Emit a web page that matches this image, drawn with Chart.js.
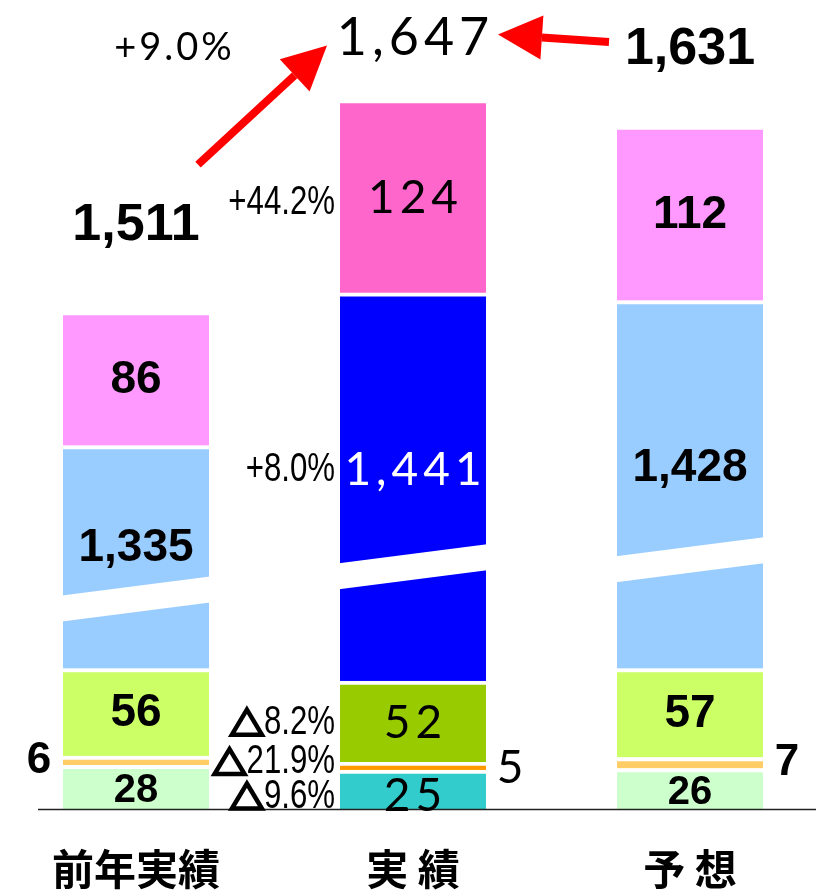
<!DOCTYPE html>
<html>
<head>
<meta charset="utf-8">
<script src="https://cdn.jsdelivr.net/npm/chart.js@4"></script>
<style>
  html, body { margin: 0; padding: 0; background: #fff; }
  #wrap { width: 816px; height: 893px; }
</style>
</head>
<body>
<div id="wrap"><canvas id="sales-chart"></canvas></div>
<script>
// Data (segments listed bottom to top)
const categories = ['前年実績', '実 績', '予 想'];
const bottomValues = [28, 25, 26];
const smallValues = [6, 5, 7];
const middleValues = [56, 52, 57];
const mainValues = [1335, 1441, 1428];
const topValues = [86, 124, 112];
const totals = [1511, 1647, 1631];
const changeLabels = ['△9.6%', '△21.9%', '△8.2%', '+8.0%', '+44.2%'];
const totalChange = '+9.0%';
const axisBreak = 1192; // the big segment is drawn from this cut upward

const segmentValues = [bottomValues, smallValues, middleValues, mainValues, topValues];
const fmt = v => v.toLocaleString('en-US');

const boldFont = size => `bold ${size}px 'Liberation Sans', Arial, sans-serif`;
const thinFont = size => `${size}px Lato, sans-serif`;

function drawText(ctx, text, x, y, font, color, align, spacing, squeeze) {
  ctx.save();
  ctx.font = font;
  ctx.fillStyle = color || '#000';
  ctx.textAlign = align || 'center';
  ctx.textBaseline = 'middle';
  if (spacing) {
    ctx.letterSpacing = spacing + 'px';
    if ((align || 'center') === 'center') x += spacing / 2;
  }
  if (squeeze) {
    ctx.translate(x, y);
    ctx.scale(squeeze, 1);
    ctx.fillText(text, 0, 0);
  } else {
    ctx.fillText(text, x, y);
  }
  ctx.restore();
}

// percent label, with an outlined triangle for negative changes
function drawChange(ctx, text, right, y) {
  const narrow = 0.78;
  const font = "40px 'Liberation Sans', Arial, sans-serif";
  ctx.save();
  ctx.font = font;
  let body = text, neg = false;
  if (text.startsWith('△')) { neg = true; body = text.slice(1); }
  const w = ctx.measureText(body).width * narrow;
  drawText(ctx, body, right, y, font, '#000', 'right', 0, narrow);
  if (neg) {
    const tx = right - w - 17, s = 15;
    ctx.strokeStyle = '#000';
    ctx.lineWidth = 4.5;
    ctx.lineJoin = 'miter';
    ctx.beginPath();
    ctx.moveTo(tx, y - s + 2);
    ctx.lineTo(tx + s, y + s - 3);
    ctx.lineTo(tx - s, y + s - 3);
    ctx.closePath();
    ctx.stroke();
  }
  ctx.restore();
}

function drawArrow(ctx, x0, y0, x1, y1) {
  const ang = Math.atan2(y1 - y0, x1 - x0);
  const headLen = 44, headHalf = 22;
  const bx = x1 - headLen * Math.cos(ang), by = y1 - headLen * Math.sin(ang);
  ctx.save();
  ctx.strokeStyle = '#FF0000';
  ctx.fillStyle = '#FF0000';
  ctx.lineWidth = 8;
  ctx.beginPath();
  ctx.moveTo(x0, y0);
  ctx.lineTo(bx, by);
  ctx.stroke();
  ctx.beginPath();
  ctx.moveTo(x1, y1);
  ctx.lineTo(bx + headHalf * Math.sin(ang), by - headHalf * Math.cos(ang));
  ctx.lineTo(bx - headHalf * Math.sin(ang), by + headHalf * Math.cos(ang));
  ctx.closePath();
  ctx.fill();
  ctx.restore();
}

const overlayPlugin = {
  id: 'overlay',
  afterDatasetsDraw(chart) {
    const ctx = chart.ctx;
    const area = chart.chartArea;
    const xScale = chart.scales.x;
    const metas = segmentValues.map((_, i) => chart.getDatasetMeta(i));

    // slanted white break across the big segment
    metas[3].data.forEach(el => {
      const { x, y, base, width } = el.getProps(['x', 'y', 'base', 'width'], true);
      const left = x - width / 2 - 1, right = x + width / 2 + 1;
      const mid = base - 0.27 * (base - y);
      ctx.save();
      ctx.fillStyle = '#fff';
      ctx.beginPath();
      ctx.moveTo(left, mid - 13);
      ctx.lineTo(right, mid - 13 - 19);
      ctx.lineTo(right, mid + 13 - 19);
      ctx.lineTo(left, mid + 13);
      ctx.closePath();
      ctx.fill();
      ctx.restore();
    });

    // baseline
    ctx.save();
    ctx.strokeStyle = '#222';
    ctx.lineWidth = 1.5;
    ctx.beginPath();
    ctx.moveTo(38, area.bottom + 0.5);
    ctx.lineTo(chart.width, area.bottom + 0.5);
    ctx.stroke();
    ctx.restore();

    // category labels
    chart.data.labels.forEach((lab, i) => {
      drawText(ctx, lab, xScale.getPixelForValue(i), area.bottom + 60,
        "bold 42px 'Noto Sans CJK JP', sans-serif", '#000');
    });

    // segment labels
    const labelY = [];
    metas.forEach((meta, d) => {
      meta.data.forEach((el, i) => {
        const { x, y, base, width } = el.getProps(['x', 'y', 'base', 'width'], true);
        const top = y + 4;
        let ly = (top + base) / 2;
        if (d === 3) ly = top + 0.45 * (base - top);
        if (d === 0) ly += i === 1 ? 5 : 2;
        if (d === 2) ly -= 1;
        labelY[d] = labelY[d] || [];
        labelY[d][i] = ly;
        const text = fmt(segmentValues[d][i]);
        if (d === 1) {
          const sx = i === 0 ? x - width / 2 - 24 : x + width / 2 + 24;
          if (i === 1) drawText(ctx, text, sx, ly, thinFont(46), '#000');
          else drawText(ctx, text, sx, ly - 2, boldFont(44), '#000');
          return;
        }
        if (i === 1) {
          drawText(ctx, text, x, ly, thinFont(46), d === 3 ? '#fff' : '#000', 'center', 5);
        } else {
          drawText(ctx, text, x, ly, boldFont(d === 0 ? 40 : 46), '#000');
        }
      });
    });

    // year-on-year change, left of the 実績 bar
    const mid = metas[0].data[1];
    const pctX = mid.x - mid.width / 2 - 5;
    changeLabels.forEach((txt, d) => {
      let ly = labelY[d][1];
      if (d === 1) ly -= 6;
      if (d === 4) ly += 5;
      drawChange(ctx, txt, pctX, ly);
    });

    // totals above bars
    const offsets = [90, 65, 80];
    const tops = metas[4].data.map(el => el.y + 4);
    const xs = metas[4].data.map(el => el.x);
    const ty = tops.map((t, i) => t - offsets[i]);
    drawText(ctx, fmt(totals[0]), xs[0], ty[0], boldFont(52), '#000');
    drawText(ctx, fmt(totals[1]), xs[1], ty[1], thinFont(52), '#000', 'center', 5);
    drawText(ctx, fmt(totals[2]), xs[2], ty[2], boldFont(52), '#000');
    drawText(ctx, totalChange, xs[0] + 37, ty[1] + 9, thinFont(38), '#000', 'center', 3);

    // arrows toward the 実績 total
    drawArrow(ctx, xs[0] + 62, ty[0] - 61, xs[1] - 86, ty[1] + 7);
    drawArrow(ctx, xs[2] - 81, ty[2] - 8, xs[1] + 85, ty[1] - 4);
  }
};

const barColors = [
  ['#CCFFCC', '#33CCCC', '#CCFFCC'],
  ['#FFCC66', '#FF9900', '#FFCC66'],
  ['#CCFF66', '#99CC00', '#CCFF66'],
  ['#99CCFF', '#0000FF', '#99CCFF'],
  ['#FF99FF', '#FF66CC', '#FF99FF']
];

const plotted = [
  bottomValues,
  smallValues,
  middleValues,
  mainValues.map(v => v - axisBreak),
  topValues
];

const salesChart = document.getElementById('sales-chart');
new Chart(salesChart, {
  type: 'bar',
  data: {
    labels: categories,
    datasets: plotted.map((data, d) => ({
      data: data,
      backgroundColor: barColors[d],
      borderColor: '#fff',
      borderWidth: { top: 4, right: 0, bottom: 0, left: 0 },
      borderSkipped: 'start',
      barThickness: 146,
      clip: false
    }))
  },
  plugins: [overlayPlugin],
  options: {
    responsive: true,
    maintainAspectRatio: false,
    animation: false,
    layout: {
      padding: { top: 20, left: 136, right: 126, bottom: 84 }
    },
    plugins: {
      legend: { display: false },
      tooltip: { enabled: false }
    },
    scales: {
      x: {
        stacked: true,
        offset: false,
        grid: { display: false, drawTicks: false },
        border: { display: false },
        ticks: { display: false }
      },
      y: {
        stacked: true,
        display: false,
        min: 0,
        max: 506
      }
    }
  }
});
</script>
</body>
</html>
